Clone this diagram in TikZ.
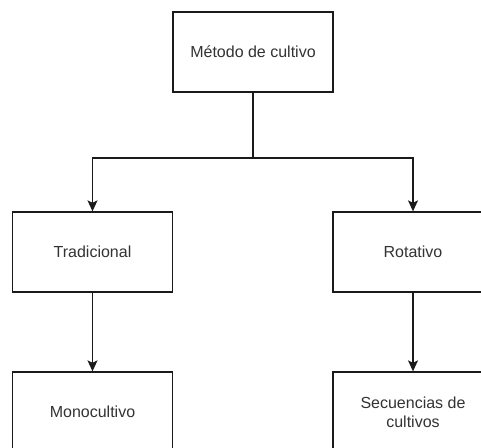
\documentclass[tikz,border=0pt]{standalone}
\usepackage{fontspec}
\setmainfont{Liberation Sans}
\usetikzlibrary{arrows.meta}
\definecolor{inkline}{HTML}{1A1A1A}
\definecolor{inktext}{HTML}{333333}
\tikzset{
  box/.style={draw=inkline, line width=1.33pt, fill=white,
    minimum width=160pt, minimum height=80pt, inner sep=0pt,
    align=center, text=inktext, font=\fontsize{16}{19}\selectfont},
  link/.style={draw=inkline, line width=1.33pt},
  arrowlink/.style={link, -{Stealth[length=11pt, width=10pt, inset=2.5pt]}}
}
\begin{document}
\begin{tikzpicture}[x=1pt, y=-1pt]
  \useasboundingbox (0,0) rectangle (481,447);
  \clip (0,0) rectangle (481,447);
  \fill[white] (0,0) rectangle (481,447);

  % levels of the tree
  \node[box] (metodo) at (253,52) {Método de cultivo};
  \node[box] (trad) at (92.5,252) {Tradicional};
  \node[box] (rota) at (413,252) {Rotativo};
  \node[box] (mono) at (92.5,412) {Monocultivo};
  \node[box] (secu) at (413,412) {Secuencias de\\cultivos};

  % split point under the root
  \coordinate (split) at (253,158);

  \draw[link] (metodo) -- (split);
  \draw[arrowlink] (split) -| (trad);
  \draw[arrowlink] (split) -| (rota);
  \draw[arrowlink] (trad) -- (mono);
  \draw[arrowlink] (rota) -- (secu);
\end{tikzpicture}
\end{document}
